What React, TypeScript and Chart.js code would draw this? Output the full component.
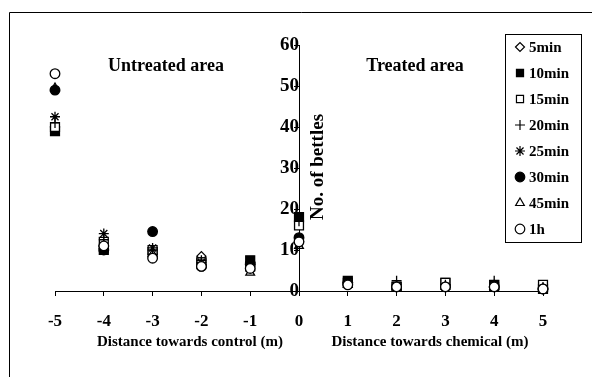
import React, { useEffect, useRef } from 'react';
import { Chart, registerables } from 'chart.js';
import { drawPoint } from 'chart.js/helpers';

Chart.register(...registerables);

const distances = [-5, -4, -3, -2, -1, 0, 1, 2, 3, 4, 5];
const xTickLabels = ['-5', '-4', '-3', '-2', '-1', '0', '1', '2', '3', '4', '5'];
const yTicks = [0, 10, 20, 30, 40, 50, 60];

const min5 = [40, 11, 9, 8.5, 7, 12, 2, 1, 1.5, 1, 0.5];
const min10 = [39, 10, 9.5, 7, 7.5, 18, 2.5, 1, 2, 1.5, 0.5];
const min15 = [40, 12, 10, 7, 6, 16, 2, 1, 2, 1, 1.5];
const min20 = [41, 12.5, 10, 7.5, 6, 17, 2, 2.5, 1.5, 2.5, 1];
const min25 = [42.5, 14, 10.5, 7, 6.5, 13, 1.5, 1, 1, 1.5, 0.5];
const min30 = [49, 10, 14.5, 6, 6.5, 13, 2, 1, 1, 1, 0.5];
const min45 = [49.5, 11, 9, 6.5, 4.5, 11, 1.5, 1, 1, 1, 0.5];
const h1 = [53, 11, 8, 6, 5.5, 12, 1.5, 1, 1, 1, 0.5];

const seriesNames = ['5min', '10min', '15min', '20min', '25min', '30min', '45min', '1h'];
const seriesValues = [min5, min10, min15, min20, min25, min30, min45, h1];

const FONT = '"Liberation Serif", "Times New Roman", serif';

const styles = [
  { pointStyle: 'rectRot', fill: '#ffffff', radius: 4.5 },
  { pointStyle: 'rect', fill: '#000000', radius: 6.3 },
  { pointStyle: 'rect', fill: '#ffffff', radius: 6.3 },
  { pointStyle: 'cross', fill: '#000000', radius: 5 },
  { pointStyle: 'star', fill: '#000000', radius: 5 },
  { pointStyle: 'circle', fill: '#000000', radius: 4.8 },
  { pointStyle: 'triangle', fill: 'rgba(255,255,255,0)', radius: 5 },
  { pointStyle: 'circle', fill: '#ffffff', radius: 4.8 },
];

const textPlugin = {
  id: 'customText',
  beforeDraw(chart: any) {
    const ctx = chart.ctx;
    ctx.save();
    ctx.strokeStyle = '#000';
    ctx.lineWidth = 1;
    ctx.beginPath();
    ctx.moveTo(9.5, 400);
    ctx.lineTo(9.5, 12.5);
    ctx.lineTo(600, 12.5);
    ctx.stroke();
    ctx.restore();
  },
  afterDraw(chart: any) {
    const ctx = chart.ctx;
    ctx.save();
    ctx.fillStyle = '#000';
    ctx.textBaseline = 'middle';
    ctx.textAlign = 'center';
    ctx.font = `bold 18px ${FONT}`;
    ctx.fillText('Untreated area', 166, 66);
    ctx.fillText('Treated area', 415, 66);
    ctx.font = `bold 15px ${FONT}`;
    ctx.fillText('Distance towards control (m)', 190, 342);
    ctx.fillText('Distance towards chemical (m)', 430, 342);
    ctx.save();
    ctx.translate(318, 167);
    ctx.rotate(-Math.PI / 2);
    ctx.font = `bold 19px ${FONT}`;
    ctx.fillText('No. of bettles', 0, 0);
    ctx.restore();

    // legend
    ctx.strokeStyle = '#000';
    ctx.lineWidth = 1;
    ctx.strokeRect(505.5, 34.5, 76, 208);
    ctx.font = `bold 15px ${FONT}`;
    ctx.textAlign = 'left';
    seriesNames.forEach((name, i) => {
      const y = 47 + i * 26;
      const st = styles[i];
      ctx.fillStyle = st.fill;
      ctx.strokeStyle = '#000';
      ctx.lineWidth = 1.2;
      drawPoint(ctx, { pointStyle: st.pointStyle, radius: Math.min(st.radius, 5), rotation: 0, borderWidth: 1.2 } as any, 520, y);
      ctx.fillStyle = '#000';
      ctx.fillText(name, 529, y + 1);
    });
    ctx.restore();
  },
};

export default function App() {
  const ref = useRef<HTMLCanvasElement | null>(null);
  useEffect(() => {
    if (!ref.current) return;
    const datasets = seriesNames.map((name, i) => ({
      label: name,
      data: distances.map((x, j) => ({ x, y: seriesValues[i][j] })),
      pointStyle: styles[i].pointStyle as any,
      pointRadius: styles[i].radius,
      backgroundColor: styles[i].fill,
      borderColor: '#000000',
      borderWidth: 1.3,
      showLine: false,
      clip: false as any,
      order: 7 - i,
    }));
    const chart = new Chart(ref.current, {
      type: 'scatter',
      data: { datasets },
      plugins: [textPlugin],
      options: {
        animation: false,
        responsive: false,
        layout: { padding: { left: 55, right: 49, top: 45, bottom: 46 } },
        plugins: { legend: { display: false }, tooltip: { enabled: false } },
        scales: {
          x: {
            type: 'linear',
            position: 'bottom',
            min: -5,
            max: 5,
            afterFit: (s: any) => { s.height = 40; },
            afterBuildTicks: (s: any) => { s.ticks = distances.map((v) => ({ value: v })); },
            grid: { display: true, drawOnChartArea: false, drawTicks: true, tickLength: 5, color: '#000' },
            border: { display: true, color: '#000', width: 1 },
            ticks: {
              color: '#000',
              padding: 15,
              font: { family: FONT, size: 17, weight: 'bold' },
              callback: (v: any) => xTickLabels[distances.indexOf(Number(v))] ?? '',
            },
          },
          y: {
            type: 'linear',
            position: { x: 0 } as any,
            min: 0,
            max: 60,
            afterBuildTicks: (s: any) => { s.ticks = yTicks.map((v) => ({ value: v })); },
            grid: { display: true, drawOnChartArea: false, drawTicks: true, tickLength: 5, color: '#000' },
            border: { display: true, color: '#000', width: 1 },
            ticks: {
              color: '#000',
              padding: 3,
              font: { family: FONT, size: 19, weight: 'bold' },
            },
          },
        },
      },
    });
    return () => chart.destroy();
  }, []);
  return (
    <div style={{ position: 'absolute', left: 0, top: 0, width: 592, height: 377, background: '#fff' }}>
      <canvas ref={ref} width={592} height={377} style={{ width: 592, height: 377, display: 'block' }} />
    </div>
  );
}
